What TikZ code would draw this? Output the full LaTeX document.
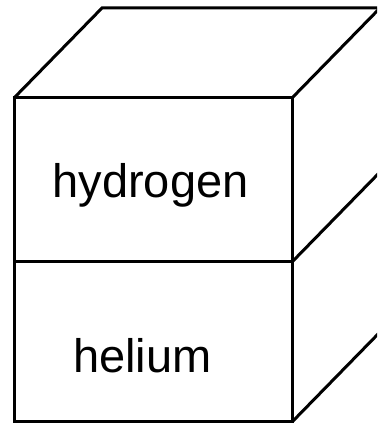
\documentclass[tikz,border=0pt]{standalone}
\usepackage{fontspec}
\setmainfont{Liberation Sans}
\begin{document}
\begin{tikzpicture}[x=1pt,y=1pt,
  edge/.style={line width=3pt,black},
  label/.style={font=\fontsize{47}{50}\selectfont,anchor=base,inner sep=0pt}]
\useasboundingbox (0,0) rectangle (377,425);
\clip (0,0) rectangle (377,425);
\coordinate (ftl) at (14,327);
\coordinate (ftr) at (292,327);
\coordinate (fml) at (14,163);
\coordinate (fmr) at (292,163);
\coordinate (fbl) at (14,3);
\coordinate (fbr) at (292,3);
\coordinate (btl) at (102,417);
\coordinate (btr) at (380,417);
\coordinate (bmr) at (380,253);
\coordinate (bbr) at (380,93);
\draw[edge] (ftl) -- (ftr) -- (fbr) -- (fbl) -- cycle;
\draw[edge] (fml) -- (fmr);
\draw[edge] (ftl) -- (btl) -- (btr);
\draw[edge] (ftr) -- (btr);
\draw[edge] (fmr) -- (bmr);
\draw[edge] (fbr) -- (bbr);
\node[label] (h) at (150.5,227) {hydrogen};
\node[label] (he) at (142.5,52) {helium};
\end{tikzpicture}
\end{document}
